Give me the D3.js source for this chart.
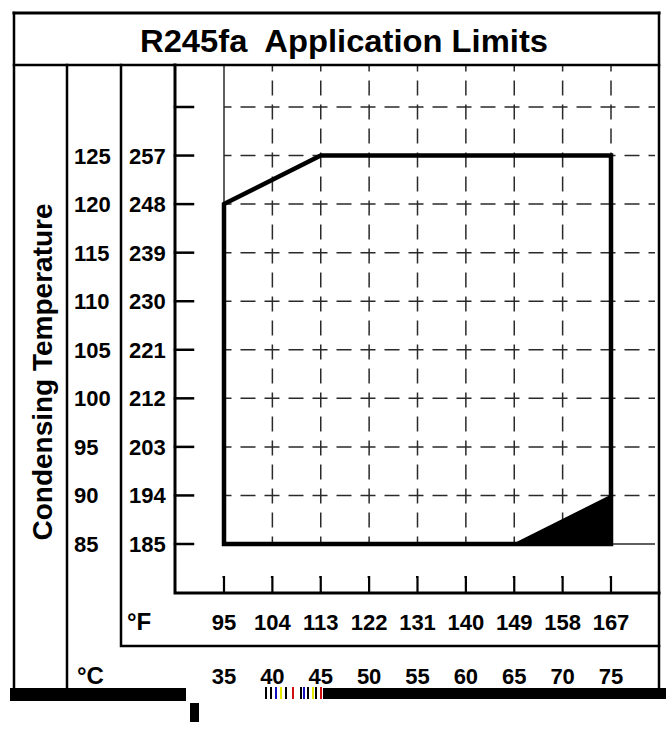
<!DOCTYPE html>
<html>
<head>
<meta charset="utf-8">
<script src="https://cdn.jsdelivr.net/npm/d3@7/dist/d3.min.js"></script>
<style>
  html, body { margin: 0; padding: 0; background: #fff; }
  svg { display: block; }
  text { font-family: "Liberation Sans", Arial, Helvetica, sans-serif; font-weight: bold; fill: #000; }
</style>
</head>
<body>
<svg id="chart" width="666" height="740"></svg>
<script>
// Evaporating temperature scale (x): Celsius values and their Fahrenheit labels
const evapC = [35, 40, 45, 50, 55, 60, 65, 70, 75];
const evapF = [95, 104, 113, 122, 131, 140, 149, 158, 167];

// Condensing temperature scale (y): Celsius values and their Fahrenheit labels
const condC = [85, 90, 95, 100, 105, 110, 115, 120, 125];
const condF = [185, 194, 203, 212, 221, 230, 239, 248, 257];
const condTicks = [85, 90, 95, 100, 105, 110, 115, 120, 125, 130];

// Application envelope (evaporating °C, condensing °C)
const envelopeEvap = [35, 45, 75, 75, 35, 35];
const envelopeCond = [120, 125, 125, 85, 85, 120];

// Excluded corner (filled black)
const cornerEvap = [65, 75, 75];
const cornerCond = [85, 90, 85];

const title = "R245fa  Application Limits";
const yTitle = "Condensing Temperature";

const svg = d3.select("#chart");

// layout
const L = { left: 14, colC: 67, colF: 121, axis: 175, right: 659, top: 13, titleBottom: 65,
            xAxisY: 593, fRowBottom: 646, bottom: 688, gridRight: 655 };

const x = d3.scaleLinear().domain([35, 75]).range([224, 611]);
const y = d3.scaleLinear().domain([85, 130]).range([544, 107]);

// ---- grid ----
const grid = svg.append("g").attr("stroke", "#2a2a2a").attr("stroke-width", 1.5).attr("fill", "none");
evapC.forEach((v, i) => {
  grid.append("line")
    .attr("x1", x(v)).attr("x2", x(v))
    .attr("y1", y(85)).attr("y2", L.titleBottom)
    .attr("stroke-dasharray", i === 0 ? null : "15 9")
    .attr("stroke-dashoffset", 7.5);
});
condTicks.forEach((v, i) => {
  grid.append("line")
    .attr("x1", x(35)).attr("x2", L.gridRight)
    .attr("y1", y(v)).attr("y2", y(v))
    .attr("stroke-dasharray", i === 0 ? null : "15 9")
    .attr("stroke-dashoffset", 7.5);
});

// ---- envelope ----
const pts = envelopeEvap.map((e, i) => [x(e), y(envelopeCond[i])]);
svg.append("path")
  .attr("d", d3.line()(pts) + "Z")
  .attr("fill", "none").attr("stroke", "#000").attr("stroke-width", 4.5)
  .attr("stroke-linejoin", "miter");

const cpts = cornerEvap.map((e, i) => [x(e), y(cornerCond[i])]);
svg.append("path")
  .attr("d", d3.line()(cpts) + "Z")
  .attr("fill", "#000").attr("stroke", "#000").attr("stroke-width", 1.5);

// ---- frame ----
const frame = svg.append("g").attr("stroke", "#000").attr("fill", "none").attr("stroke-linecap", "square");
const seg = (x1, y1, x2, y2, w) => frame.append("line")
  .attr("x1", x1).attr("y1", y1).attr("x2", x2).attr("y2", y2).attr("stroke-width", w);
seg(L.left, L.top, L.right, L.top, 3);
seg(L.left, L.titleBottom, L.right, L.titleBottom, 2.5);
seg(L.left, L.top, L.left, L.bottom, 2.5);
seg(L.right, L.top, L.right, L.bottom, 2.5);
seg(L.colC, L.titleBottom, L.colC, L.bottom, 2.5);
frame.append("path").attr("stroke-width", 2.5)
  .attr("d", `M${L.colF},${L.titleBottom}V${L.fRowBottom}H${L.right}`);
frame.append("path").attr("stroke-width", 3)
  .attr("d", `M${L.axis},${L.titleBottom}V${L.xAxisY}H${L.right}`);

// y ticks
condTicks.forEach(v => seg(L.axis, y(v), L.axis + 18, y(v), 2.5));
// x ticks (small upward marks on the bottom axis)
evapC.forEach(v => {
  frame.append("path").attr("stroke-width", 2.2).attr("stroke-linecap", "butt")
    .attr("d", `M${x(v)},${L.xAxisY}V${L.xAxisY - 16}l-1.5,0`);
});

// ---- texts ----
svg.append("text").attr("x", 344).attr("y", 52)
  .attr("xml:space", "preserve").style("white-space", "pre")
  .attr("text-anchor", "middle").attr("font-size", 32)
  .attr("textLength", 408).attr("lengthAdjust", "spacingAndGlyphs")
  .text(title);

svg.append("text")
  .attr("transform", `translate(52,372) rotate(-90)`)
  .attr("text-anchor", "middle").attr("font-size", 28).text(yTitle);

condC.forEach(v => {
  svg.append("text").attr("x", 74).attr("y", y(v) + 8).attr("font-size", 22).text(v);
});
condF.forEach((v, i) => {
  svg.append("text").attr("x", 129).attr("y", y(condC[i]) + 8).attr("font-size", 22).text(v);
});

svg.append("text").attr("x", 127).attr("y", 630).attr("font-size", 24).text("°F");
evapF.forEach((v, i) => {
  svg.append("text").attr("x", x(evapC[i])).attr("y", 630)
    .attr("text-anchor", "middle").attr("font-size", 22).text(v);
});

svg.append("text").attr("x", 77).attr("y", 684).attr("font-size", 24).text("°C");
evapC.forEach(v => {
  svg.append("text").attr("x", x(v)).attr("y", 684)
    .attr("text-anchor", "middle").attr("font-size", 22).text(v);
});

// ---- footer band ----
svg.append("rect").attr("x", 10).attr("y", 688).attr("width", 176).attr("height", 13).attr("fill", "#000");
svg.append("rect").attr("x", 190).attr("y", 703).attr("width", 9).attr("height", 19).attr("fill", "#000");
const stripeX = [265, 270, 275, 280, 285, 292, 300, 303, 307, 312, 315, 320];
const stripeC = ["#000", "#000", "#1010c0", "#e8e800", "#000", "#d01010", "#000", "#1010c0", "#000", "#e8e800", "#000", "#d01010"];
stripeX.forEach((sx, i) => {
  svg.append("rect").attr("x", sx).attr("y", 687).attr("width", 2).attr("height", 12).attr("fill", stripeC[i]);
});
svg.append("rect").attr("x", 323).attr("y", 688).attr("width", 343).attr("height", 11).attr("fill", "#000");
</script>
</body>
</html>
